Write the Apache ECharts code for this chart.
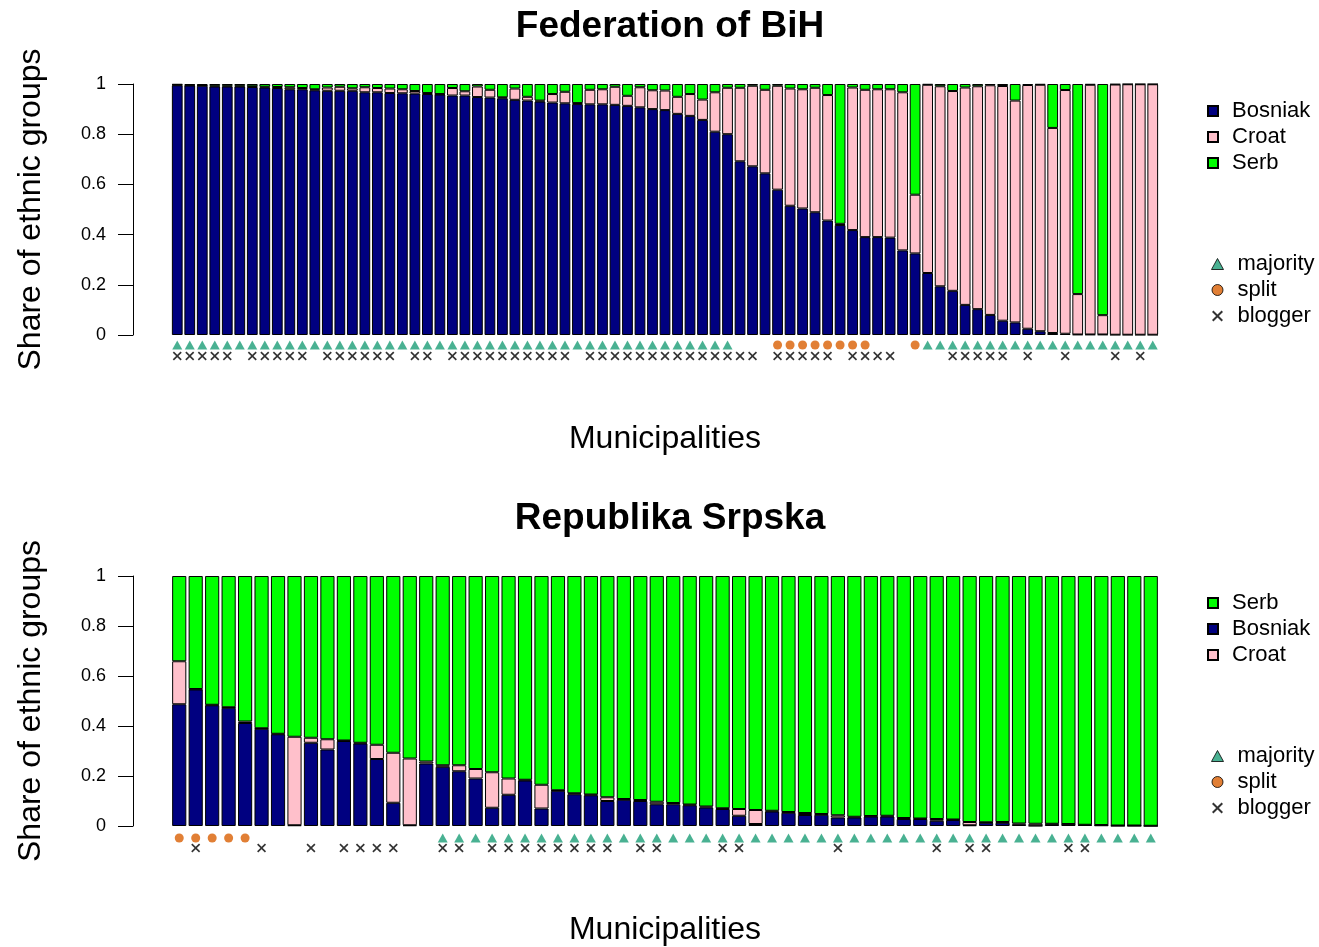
<!DOCTYPE html>
<html>
<head>
<meta charset="utf-8">
<script src="https://cdn.jsdelivr.net/npm/echarts@6/dist/echarts.min.js"></script>
<style>
html,body{margin:0;padding:0;background:#fff;}
#chart{width:1319px;height:947px;}
</style>
</head>
<body>
<div id="chart"></div>
<script>
// ---------- Federation of BiH (79 municipalities) ----------
const fbihBosniak = [0.995,0.994,0.993,0.99,0.99,0.99,0.988,0.986,0.984,0.979,
  0.979,0.975,0.973,0.973,0.973,0.967,0.967,0.964,0.963,0.962,
  0.96,0.958,0.954,0.954,0.948,0.946,0.943,0.937,0.934,0.93,
  0.926,0.923,0.92,0.919,0.919,0.917,0.913,0.907,0.9,0.896,
  0.881,0.873,0.857,0.81,0.8,0.692,0.672,0.644,0.579,0.515,
  0.504,0.489,0.456,0.438,0.418,0.39,0.39,0.388,0.337,0.325,
  0.247,0.194,0.176,0.12,0.103,0.08,0.057,0.05,0.025,0.015,
  0.008,0.005,0.002,0.002,0.002,0.001,0.001,0.001,0.001];
const fbihCroat = [0.002,0.002,0.002,0.003,0.003,0.003,0.003,0.003,0.004,0.008,
  0.005,0.004,0.013,0.016,0.01,0.02,0.017,0.018,0.016,0.01,
  0.004,0.002,0.03,0.017,0.042,0.031,0.004,0.045,0.015,0.004,
  0.034,0.046,0.004,0.058,0.06,0.072,0.04,0.08,0.075,0.078,
  0.068,0.087,0.081,0.157,0.185,0.293,0.321,0.333,0.414,0.467,
  0.475,0.496,0.5,0.005,0.568,0.587,0.589,0.591,0.63,0.234,
  0.75,0.797,0.796,0.866,0.888,0.915,0.935,0.884,0.971,0.982,
  0.817,0.971,0.161,0.995,0.077,0.997,0.998,0.998,0.998];
const fbihSerb = [0.003,0.004,0.005,0.007,0.007,0.007,0.009,0.011,0.012,0.013,
  0.016,0.021,0.014,0.011,0.017,0.013,0.016,0.018,0.021,0.028,
  0.036,0.04,0.016,0.029,0.01,0.023,0.053,0.018,0.051,0.066,
  0.04,0.031,0.076,0.023,0.021,0.011,0.047,0.013,0.025,0.026,
  0.051,0.04,0.062,0.033,0.015,0.015,0.007,0.023,0.007,0.018,
  0.021,0.015,0.044,0.557,0.014,0.023,0.021,0.021,0.033,0.441,
  0.003,0.009,0.028,0.014,0.009,0.005,0.008,0.066,0.004,0.003,
  0.175,0.024,0.837,0.003,0.921,0.002,0.001,0.001,0.001];
// bar numbers (1-based) carrying each marker
const fbihMajority = [1,2,3,4,5,6,7,8,9,10,11,12,13,14,15,16,17,18,19,20,
  21,22,23,24,25,26,27,28,29,30,31,32,33,34,35,36,37,38,39,40,41,42,43,44,45,
  61,62,63,64,65,66,67,68,69,70,71,72,73,74,75,76,77,78,79];
const fbihSplit = [49,50,51,52,53,54,55,56,60];
const fbihBlogger = [1,2,3,4,5,7,8,9,10,11,13,14,15,16,17,18,20,21,
  23,24,25,26,27,28,29,30,31,32,34,35,36,37,38,39,40,41,42,43,44,45,46,47,
  49,50,51,52,53,55,56,57,58,63,64,65,66,67,69,72,76,78];

// ---------- Republika Srpska (60 municipalities) ----------
const rsBosniak = [0.487,0.546,0.483,0.473,0.412,0.389,0.367,0.003,0.333,0.306,
  0.34,0.33,0.268,0.093,0.003,0.25,0.237,0.219,0.19,0.073,
  0.125,0.182,0.07,0.141,0.127,0.123,0.1,0.105,0.1,0.087,
  0.087,0.083,0.074,0.068,0.041,0.008,0.058,0.053,0.044,0.045,
  0.034,0.034,0.038,0.038,0.028,0.028,0.021,0.024,0.003,0.013,
  0.013,0.005,0.001,0.007,0.007,0.004,0.003,0.001,0.001,0.0005];
const rsCroat = [0.172,0.002,0.002,0.002,0.006,0.002,0.002,0.354,0.02,0.041,
  0.002,0.003,0.057,0.2,0.267,0.008,0.006,0.024,0.038,0.142,
  0.065,0.003,0.095,0.002,0.004,0.003,0.015,0.003,0.004,0.01,
  0.005,0.003,0.004,0.003,0.027,0.056,0.003,0.003,0.008,0.003,
  0.009,0.003,0.002,0.003,0.004,0.002,0.007,0.002,0.013,0.002,
  0.003,0.005,0.008,0.002,0.001,0.001,0.001,0.001,0.001,0.0005];
const rsSerb = [0.341,0.452,0.515,0.525,0.582,0.609,0.631,0.643,0.647,0.653,
  0.658,0.667,0.675,0.707,0.73,0.742,0.757,0.757,0.772,0.785,
  0.81,0.815,0.835,0.857,0.869,0.874,0.885,0.892,0.896,0.903,
  0.908,0.914,0.922,0.929,0.932,0.936,0.939,0.944,0.948,0.952,
  0.957,0.963,0.96,0.959,0.968,0.97,0.972,0.974,0.984,0.985,
  0.984,0.99,0.991,0.991,0.992,0.995,0.996,0.998,0.998,0.999];
const rsMajority = [17,18,19,20,21,22,23,24,25,26,27,28,29,30,31,32,33,34,35,36,
  37,38,39,40,41,42,43,44,45,46,47,48,49,50,51,52,53,54,55,56,57,58,59,60];
const rsSplit = [1,2,3,4,5];
const rsBlogger = [2,6,9,11,12,13,14,17,18,20,21,22,23,24,25,26,27,29,30,34,35,41,47,49,50,55,56];

const yTicks = ['0','0.2','0.4','0.6','0.8','1'];
const fbihCats = fbihBosniak.map((_, i) => String(i + 1));
const rsCats = rsBosniak.map((_, i) => String(i + 1));

// ---------- styling ----------
const FONT = '"Liberation Sans", Arial, Helvetica, sans-serif';
const COL = { Bosniak: '#000080', Croat: '#FFC0CB', Serb: '#00FF00' };
const MAJ = '#1B9E77', SPL = '#D95F02';
const XPATH = 'path://M0,1.3L1.3,0L5,3.7L8.7,0L10,1.3L6.3,5L10,8.7L8.7,10L5,6.3L1.3,10L0,8.7L3.7,5Z';
const GL = 171, GW = 988;
const OFF = 492;

function barSeries(name, data, xi, stack) {
  return {
    type: 'bar', name, data, xAxisIndex: xi, yAxisIndex: xi, stack,
    barCategoryGap: '14%',
    itemStyle: { color: COL[name], borderColor: '#000', borderWidth: 1 },
    emphasis: { disabled: true }, animation: false
  };
}
function markerSeries(xi, maj, spl, blog) {
  return [
    { type: 'scatter', name: 'majority', xAxisIndex: xi, yAxisIndex: xi,
      data: maj.map(i => [i - 1, 1]), symbol: 'triangle', symbolSize: [10, 9],
      itemStyle: { color: MAJ }, animation: false },
    { type: 'scatter', name: 'split', xAxisIndex: xi, yAxisIndex: xi,
      data: spl.map(i => [i - 1, 1]), symbol: 'circle', symbolSize: 9,
      itemStyle: { color: SPL }, animation: false },
    { type: 'scatter', name: 'blogger', xAxisIndex: xi, yAxisIndex: xi,
      data: blog.map(i => [i - 1, 0]), symbol: XPATH, symbolSize: 9,
      itemStyle: { color: '#000' }, animation: false }
  ];
}
function barX(gi, cats) {
  return {
    type: 'category', gridIndex: gi, data: cats, boundaryGap: true,
    axisLine: { show: false }, axisTick: { show: false }, axisLabel: { show: false },
    name: 'Municipalities', nameLocation: 'middle', nameGap: 88,
    nameTextStyle: { fontSize: 32, color: '#000', fontFamily: FONT }
  };
}
function barY(gi) {
  return {
    type: 'value', gridIndex: gi, min: 0, max: 1, interval: 0.2, offset: 38,
    axisLine: { show: true, lineStyle: { color: '#000', width: 1 } },
    axisTick: { show: true, length: 15, lineStyle: { color: '#000' } },
    axisLabel: { fontSize: 18, color: '#000', fontFamily: FONT, margin: 27,
      formatter: v => yTicks[Math.round(v * 5)] },
    splitLine: { show: false },
    name: 'Share of ethnic groups', nameLocation: 'middle', nameGap: 86,
    nameTextStyle: { fontSize: 32, color: '#000', fontFamily: FONT }
  };
}
function mkX(gi, cats) {
  return { type: 'category', gridIndex: gi, data: cats, boundaryGap: true, show: false };
}
function mkY(gi) {
  return { type: 'value', gridIndex: gi, min: 0, max: 1, show: false };
}
function groupLegend(names, top) {
  return {
    orient: 'vertical', left: 1207, top, padding: 0, itemWidth: 10, itemHeight: 10, itemGap: 4,
    icon: 'rect', data: names, selectedMode: false,
    textStyle: { fontSize: 22, lineHeight: 22, color: '#000', fontFamily: FONT, padding: [0, 0, 0, 9] }
  };
}
function markLegend(top) {
  return {
    orient: 'vertical', left: 1211, top, padding: 0, itemWidth: 12, itemHeight: 11, itemGap: 4,
    selectedMode: false,
    data: [
      { name: 'majority', icon: 'triangle', itemStyle: { color: MAJ, borderColor: '#000', borderWidth: 1 } },
      { name: 'split', icon: 'circle', itemStyle: { color: SPL, borderColor: '#000', borderWidth: 1 } },
      { name: 'blogger', icon: XPATH, itemStyle: { color: '#000' } }
    ],
    textStyle: { fontSize: 22, lineHeight: 22, color: '#000', fontFamily: FONT, padding: [0, 0, 0, 9] }
  };
}

const option = {
  backgroundColor: '#fff',
  animation: false,
  textStyle: { fontFamily: FONT },
  title: [
    { text: 'Federation of BiH', left: 665, top: 3, textAlign: 'center',
      textStyle: { fontSize: 37, fontWeight: 'bold', color: '#000', fontFamily: FONT } },
    { text: 'Republika Srpska', left: 665, top: 3 + OFF, textAlign: 'center',
      textStyle: { fontSize: 37, fontWeight: 'bold', color: '#000', fontFamily: FONT } }
  ],
  grid: [
    { left: GL, width: GW, top: 84, height: 251 },
    { left: GL, width: GW, top: 345, height: 11 },
    { left: GL, width: GW, top: 84 + OFF, height: 251 },
    { left: GL, width: GW, top: 345 + OFF + 1, height: 10 }
  ],
  xAxis: [barX(0, fbihCats), mkX(1, fbihCats), barX(2, rsCats), mkX(3, rsCats)],
  yAxis: [barY(0), mkY(1), barY(2), mkY(3)],
  legend: [
    groupLegend(['Bosniak', 'Croat', 'Serb'], 100),
    markLegend(253),
    groupLegend(['Serb', 'Bosniak', 'Croat'], 100 + OFF),
    markLegend(253 + OFF)
  ],
  series: [
    barSeries('Bosniak', fbihBosniak, 0, 'f'),
    barSeries('Croat', fbihCroat, 0, 'f'),
    barSeries('Serb', fbihSerb, 0, 'f'),
    ...markerSeries(1, fbihMajority, fbihSplit, fbihBlogger),
    barSeries('Bosniak', rsBosniak, 2, 'r'),
    barSeries('Croat', rsCroat, 2, 'r'),
    barSeries('Serb', rsSerb, 2, 'r'),
    ...markerSeries(3, rsMajority, rsSplit, rsBlogger)
  ]
};

const chart = echarts.init(document.getElementById('chart'), null, { renderer: 'canvas' });
chart.setOption(option);
</script>
</body>
</html>
